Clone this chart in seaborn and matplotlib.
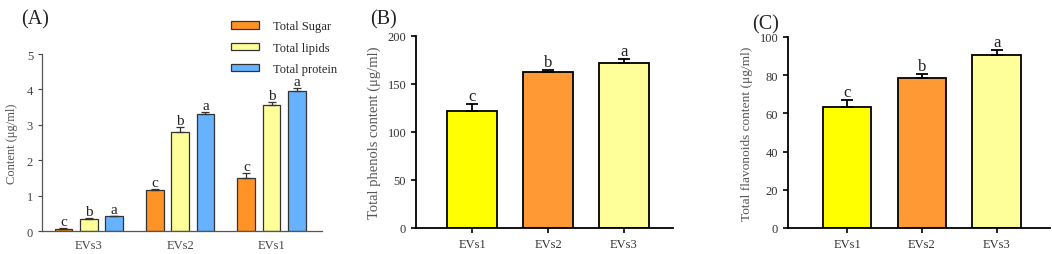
import numpy as np
import pandas as pd
import matplotlib
matplotlib.use('Agg')
import matplotlib.pyplot as plt
import seaborn as sns

sns.set_style('ticks')
plt.rcParams['font.family'] = ['Liberation Serif', 'DejaVu Serif']

# dados do painel A
grupos_a = ['EVs3', 'EVs2', 'EVs1']
componentes = ['Total Sugar', 'Total lipids', 'Total protein']
acucar = [0.07, 1.15, 1.49]
lipidios = [0.35, 2.80, 3.56]
proteina = [0.42, 3.30, 3.95]
erro_acucar = [0.01, 0.04, 0.14]
erro_lipidios = [0.02, 0.14, 0.09]
erro_proteina = [0.01, 0.06, 0.10]
letras_acucar = ['c', 'c', 'c']
letras_lipidios = ['b', 'b', 'b']
letras_proteina = ['a', 'a', 'a']

# dados dos paineis B e C
grupos = ['EVs1', 'EVs2', 'EVs3']
fenois = [122, 162, 172]
erro_fenois = [7, 3, 3.5]
flavonoides = [63.5, 78.5, 90.5]
erro_flavonoides = [3.3, 2.0, 2.5]
letras_bc = ['c', 'b', 'a']

cores_a = ['#FF9326', '#FFFF99', '#66B2FF']
cores_bc = ['#FFFF00', '#FF9933', '#FFFF99']

fig = plt.figure(figsize=(10.52, 2.55), dpi=100)

# ---------- painel A ----------
ax1 = fig.add_axes([0.040, 0.090, 0.266, 0.694])
df_a = pd.DataFrame({
    'grupo': grupos_a * 3,
    'componente': np.repeat(componentes, 3),
    'valor': acucar + lipidios + proteina,
})
sns.barplot(data=df_a, x='grupo', y='valor', hue='componente', hue_order=componentes,
            palette=cores_a, saturation=1, errorbar=None, width=0.83, gap=0.3,
            edgecolor='#333333', linewidth=0.9, ax=ax1)
erros_a = [erro_acucar, erro_lipidios, erro_proteina]
letras_a = [letras_acucar, letras_lipidios, letras_proteina]
vals_a = [acucar, lipidios, proteina]
for cont, vals, errs, letras in zip(ax1.containers, vals_a, erros_a, letras_a):
    xs = [b.get_x() + b.get_width() / 2 for b in cont]
    ax1.errorbar(xs, vals, yerr=[np.zeros(3), errs], fmt='none', ecolor='#333333',
                 elinewidth=0.9, capsize=3, capthick=0.9)
    for x, v, e, l in zip(xs, vals, errs, letras):
        ax1.annotate(l, (x, v + e), xytext=(0, 0), textcoords='offset points',
                     ha='center', va='bottom', fontsize=11, color='#222222')
ax1.set_ylim(0, 5)
ax1.set_xlim(-0.51, 2.55)
ax1.set_yticks([0, 1, 2, 3, 4, 5])
ax1.set_xlabel('')
ax1.set_ylabel('Content (μg/ml)', fontsize=9, color='#555555', labelpad=6)
ax1.tick_params(axis='both', labelsize=9, colors='#444444', length=3, width=0.8)
ax1.tick_params(axis='x', length=0, pad=6)
for s in ['left', 'bottom']:
    ax1.spines[s].set_color('#555555')
    ax1.spines[s].set_linewidth(0.9)
sns.despine(ax=ax1)
ax1.legend(frameon=False, fontsize=9, loc='upper left', bbox_to_anchor=(0.645, 1.24),
           handlelength=2.2, handleheight=0.55, labelspacing=0.75, handletextpad=1.1,
           borderpad=0.2)
fig.text(0.020, 0.905, '(A)', fontsize=14.5, color='#222222')

# ---------- paineis B e C ----------
def painel(pos, valores, erros, ylim, yticks, ylabel, fs_label, xlim, titulo, tpos):
    ax = fig.add_axes(pos)
    df = pd.DataFrame({'grupo': grupos, 'valor': valores})
    sns.barplot(data=df, x='grupo', y='valor', hue='grupo', palette=cores_bc,
                saturation=1, errorbar=None, width=0.65, edgecolor='black',
                linewidth=1.3, legend=False, ax=ax)
    xs = [b.get_x() + b.get_width() / 2 for c in ax.containers for b in c]
    ax.errorbar(xs, valores, yerr=[np.zeros(3), erros], fmt='none', ecolor='black',
                elinewidth=1.3, capsize=4.3, capthick=1.3)
    for x, v, e, l in zip(xs, valores, erros, letras_bc):
        ax.annotate(l, (x, v + e), xytext=(0, 0), textcoords='offset points',
                    ha='center', va='bottom', fontsize=12, color='#222222')
    ax.set_ylim(*ylim)
    ax.set_xlim(*xlim)
    ax.set_yticks(yticks)
    ax.set_xlabel('')
    ax.set_ylabel(ylabel, fontsize=fs_label, color='#555555', labelpad=5)
    ax.tick_params(axis='both', labelsize=9, colors='#333333', length=3.5, width=1.2)
    for s in ['left', 'bottom']:
        ax.spines[s].set_linewidth(1.3)
        ax.spines[s].set_color('black')
    ax.tick_params(axis='both', color='black')
    sns.despine(ax=ax)
    fig.text(tpos[0], tpos[1], titulo, fontsize=14.5, color='#222222')
    return ax

painel([0.3954, 0.102, 0.2443, 0.753], fenois, erro_fenois, (0, 200),
       [0, 50, 100, 150, 200], 'Total phenols content (μg/ml)', 10.5, (-0.74, 2.645),
       '(B)', (0.352, 0.905))
painel([0.749, 0.102, 0.249, 0.749], flavonoides, erro_flavonoides, (0, 100),
       [0, 20, 40, 60, 80, 100], 'Total flavonoids content (μg/ml)', 9.6, (-0.79, 2.71),
       '(C)', (0.715, 0.885))

fig.savefig('out.png', dpi=100)
